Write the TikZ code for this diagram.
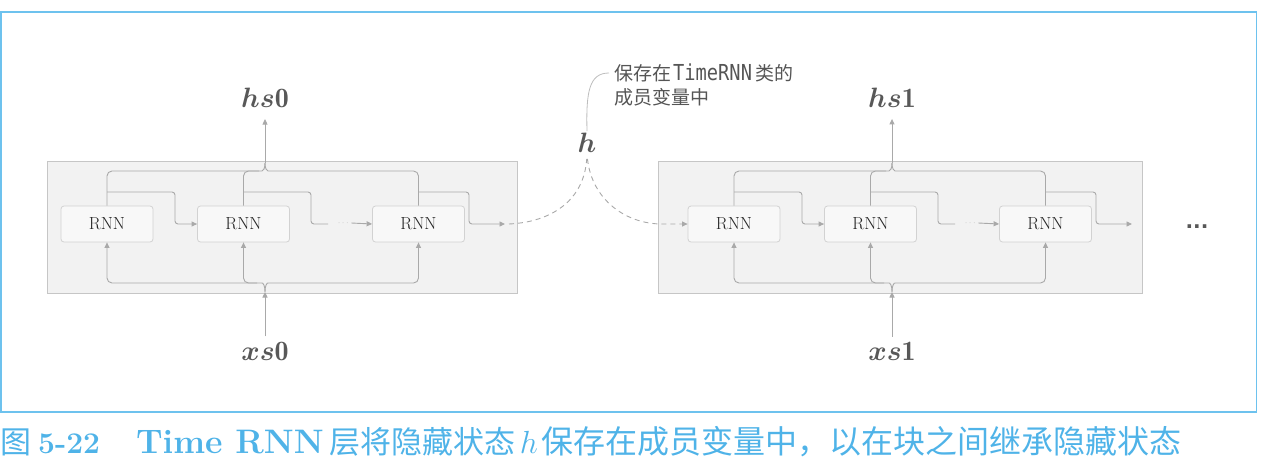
\RequirePackage{fix-cm}
\documentclass[tikz,border=0pt]{standalone}
\usepackage{amsmath,bm}
\usepackage{fontspec}
\newfontfamily\cjk{Noto Sans CJK SC}
\newfontfamily\codefont{DejaVu Sans Mono}
\newfontfamily\dotfont{DejaVu Sans}
\usetikzlibrary{arrows.meta}

\definecolor{wirec}{HTML}{A9A9A9}
\definecolor{notewire}{HTML}{BDBDBD}
\definecolor{blockfill}{HTML}{F2F2F2}
\definecolor{blockline}{HTML}{C6C6C6}
\definecolor{cellfill}{HTML}{F8F8F8}
\definecolor{cellline}{HTML}{D2D2D2}
\definecolor{labelc}{HTML}{585858}
\definecolor{notec}{HTML}{555555}
\definecolor{framec}{HTML}{6DC2EE}
\definecolor{capc}{HTML}{4FB3E8}

\tikzset{
  wire/.style={draw=wirec, line width=0.9pt},
  tip/.style={-{Triangle[length=5.5pt,width=5pt]}},
  dashwire/.style={wire, dash pattern=on 5pt off 4pt},
  blockbox/.style={draw=blockline, fill=blockfill, line width=1pt,
    minimum height=132pt, inner sep=0pt},
  cell/.style={draw=cellline, fill=cellfill, rounded corners=3pt,
    minimum width=92pt, minimum height=36pt, inner sep=0pt, line width=0.8pt,
    font=\fontsize{17.5}{17.5}\selectfont, text=black!85},
  mathlabel/.style={text=labelc, font=\fontsize{28}{30}\selectfont, inner sep=2pt},
  dotgap/.style={text=wirec!80, font=\fontsize{9}{9}\selectfont, inner sep=1pt},
  notetext/.style={anchor=west, inner sep=0pt, text=notec,
    font=\cjk\fontsize{19}{19}\selectfont},
}

\newcommand\capcjk{\cjk\fontsize{31}{34}\selectfont}
\newcommand\capcjkb{\cjk\fontsize{32}{34}\selectfont}
\newcommand\codeword[1]{\scalebox{0.85}[1]{\codefont\fontsize{22}{22}\selectfont #1}}

% One TimeRNN block: #1 horizontal shift, #2 name suffix, #3 index
\newcommand\rnnchain[3]{%
\begin{scope}[xshift=#1]
  \node[cell] (ra#2) at (107,224) {RNN};
  \node[cell] (rb#2) at (243.5,224) {RNN};
  \node[cell] (rc#2) at (418.5,224) {RNN};
  \coordinate (up#2) at (265,163);
  \coordinate (dn#2) at (265,292);
  \coordinate (bus#2) at (0,171);
  \coordinate (loop#2) at (0,192);
  \coordinate (feedl#2) at (257,283);
  \coordinate (feedr#2) at (273,283);
  \coordinate (out#2) at (505,224);
  % outputs gathered into hs
  \draw[wire, rounded corners=5pt] (ra#2.north) |- (257,171)
    .. controls (263,171) and (265,169) .. (up#2);
  \draw[wire, rounded corners=5pt] (rc#2.north) |- (273,171)
    .. controls (267,171) and (265,169) .. (up#2);
  \draw[wire, rounded corners=5pt] (rb#2.north) |- (259,171);
  \node[mathlabel] (hs#2) at (265,98) {$\bm{hs}\mathbf{#3}$};
  \draw[wire, tip, shorten >=9pt] (up#2) -- (hs#2.south);
  % hidden state handed from cell to cell
  \draw[wire, tip, rounded corners=3pt] (ra#2.north |- loop#2) -| (175,224) -- (rb#2.west);
  \draw[wire, rounded corners=3pt] (rb#2.north |- loop#2) -| (311,224) -- (328,224);
  \node[dotgap] (gap#2) at (344,223) {$\cdots$};
  \draw[wire, tip] (gap#2.east) -- (rc#2.west);
  \draw[wire, tip, rounded corners=3pt] (rc#2.north |- loop#2) -| (469,224) -- (out#2);
  % inputs fanned out from xs
  \node[mathlabel] (xs#2) at (265,351) {$\bm{xs}\mathbf{#3}$};
  \draw[wire, tip, shorten <=3pt] (xs#2.north) -- (dn#2);
  \draw[wire, tip, rounded corners=5pt] (dn#2) .. controls (265,285) and (263,283) .. (feedl#2) -| (ra#2.south);
  \draw[wire, tip, rounded corners=5pt] (dn#2) .. controls (265,285) and (267,283) .. (feedr#2) -| (rc#2.south);
  \draw[wire, tip, rounded corners=5pt] (feedl#2) -| (rb#2.south);
\end{scope}}

\begin{document}
\begin{tikzpicture}[x=1pt, y=-1pt]
  \useasboundingbox (0,0) rectangle (1268,466);
  % outer frame
  \draw[framec, line width=1.5pt] (0.75,12) rectangle (1256.5,412);

  % block backgrounds
  \node[blockbox, minimum width=470pt] (blkA) at (282,227) {};
  \node[blockbox, minimum width=484pt] (blkB) at (900,227.5) {};

  \rnnchain{0pt}{A}{0}
  \rnnchain{627pt}{B}{1}

  % hidden state kept between blocks
  \node[mathlabel] (h) at (587,143) {$\bm{h}$};
  \draw[dashwire, shorten >=4pt] ([xshift=4pt]outA) .. controls (552,222) and (584,200) .. (h.south);
  \draw[dashwire, tip, shorten <=4pt] (h.south) .. controls (592,200) and (626,224) .. (662,224) -- (raB.west);

  % note
  \node[notetext] (noteA) at (614,73) {保存在\hspace{2pt}\codeword{TimeRNN}\hspace{3pt}类的};
  \node[notetext] (noteB) at (614,97) {成员变量中};
  \draw[notewire, line width=0.8pt] (h.north) .. controls (586,92) and (589,73) .. ([xshift=-5pt]noteA.west);

  % more blocks follow
  \node[text=labelc, font=\dotfont\bfseries\fontsize{20}{20}\selectfont, inner sep=0pt] (more) at (1197,227) {...};

  % caption
  \node[anchor=base west, inner sep=0pt, text=capc, font=\fontsize{30}{34}\selectfont] (cap) at (0,453)
    {{\capcjk 图}\hspace{7pt}{\bfseries 5-22}\hspace{36pt}{\bfseries\fontsize{34}{36}\selectfont Time RNN}\hspace{6pt}{\capcjk 层将隐藏状态}\hspace{4pt}{\fontsize{32}{34}\selectfont$h$}\hspace{4pt}{\capcjkb 保存在成员变量中，以在块之间继承隐藏状态}};
\end{tikzpicture}
\end{document}
